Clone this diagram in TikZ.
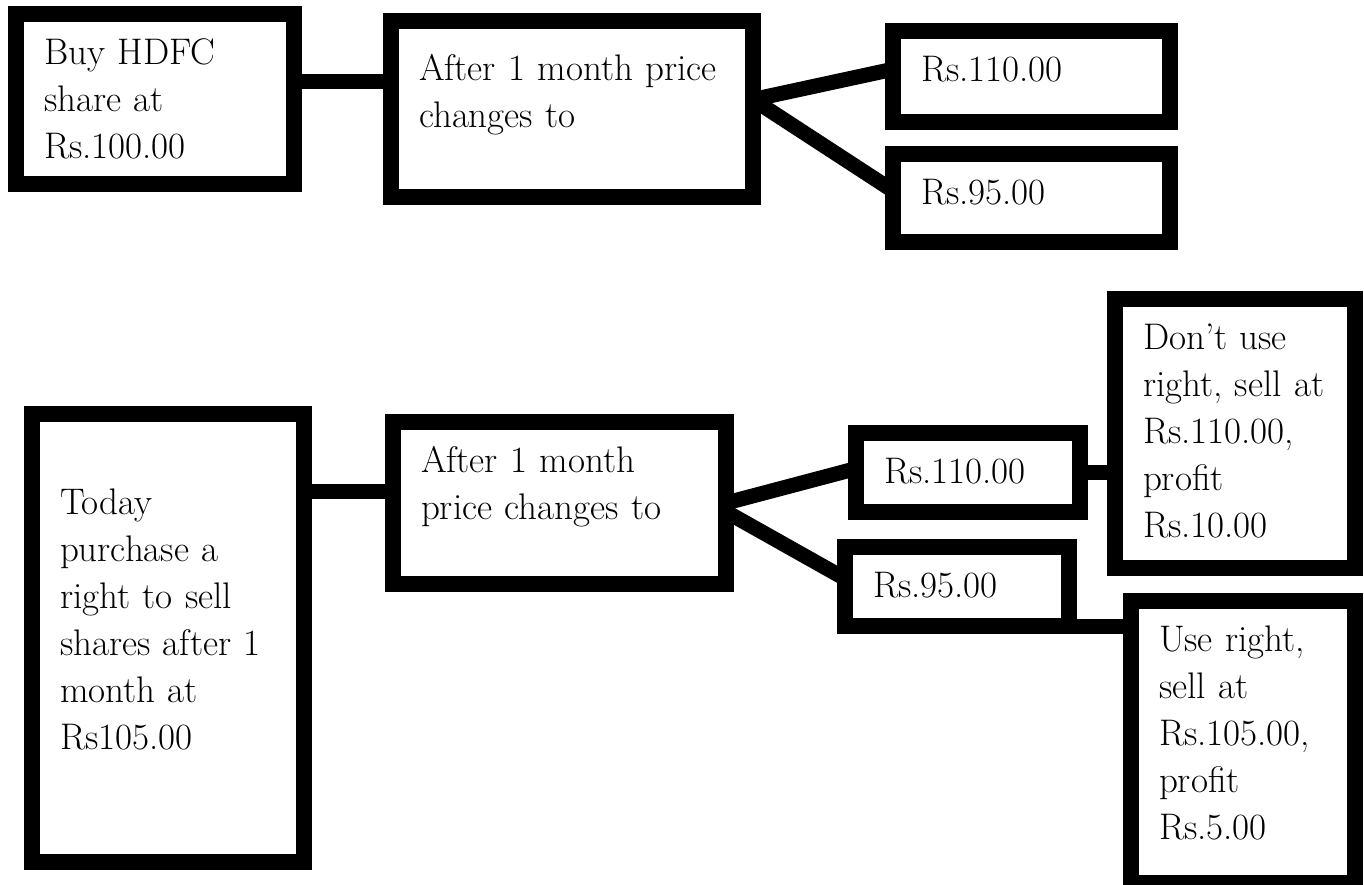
\documentclass[tikz,border=0pt]{standalone}
\usepackage{tikz}

\begin{document}
\begin{tikzpicture}[
    x=0.5pt, y=-0.5pt,
    box/.style={rectangle, draw, line width=8pt, anchor=north west, align=left,
      inner xsep=14pt, inner ysep=0pt, outer sep=0pt, text height=25pt,
      font=\fontsize{18.5}{23.5}\selectfont},
    link/.style={line width=7.5pt}
  ]
  \useasboundingbox (0,0) rectangle (1364,884);

  % buying the share
  \node[box, text width=111pt, text depth=60pt] (buy) at (16,14) {Buy HDFC\\share at\\Rs.100.00};
  \node[box, text width=153pt, text height=29.5pt, text depth=58.5pt] (month) at (391,21) {After~1~month~price\\changes to};
  \node[box, text width=110.5pt, text depth=20.5pt] (hi) at (893,31) {Rs.110.00};
  \node[box, text width=110.5pt, text depth=19pt] (lo) at (893,154) {Rs.95.00};

  \draw[link] (buy.7) -- (buy.7 -| month.west);
  \draw[link] (month.3) -- (hi.177);
  \draw[link] (month.3) -- (lo.177);

  % buying the right to sell
  \node[box, text width=108pt, text height=50pt, text depth=174pt] (today) at (32,414) {Today\\purchase a\\right to sell\\shares~after~1\\month at\\Rs105.00};
  \node[box, text width=138.5pt, text depth=56pt] (monthb) at (393,422) {After 1 month\\price changes to};
  \node[box, text width=84pt, text depth=14.5pt] (hib) at (856,433) {Rs.110.00};
  \node[box, text width=92pt, text depth=109.5pt] (nouse) at (1115,299) {Don't use\\right,~sell~at\\Rs.110.00,\\profit\\Rs.10.00};
  \node[box, text width=84pt, text depth=14.5pt] (lob) at (845,547) {Rs.95.00};
  \node[box, text width=84pt, text depth=116pt] (use) at (1131,601) {Use right,\\sell at\\Rs.105.00,\\profit\\Rs.5.00};

  \draw[link] (today.east |- monthb.176) -- (monthb.176);
  \draw[link] (monthb.east) -- (hib.178);
  \draw[link] (monthb.-3) -- (lob.176);
  \draw[link] (hib.east) -- (hib.east -| nouse.west);
  \draw[link] (lob.south east) -- (lob.south east -| use.west);
\end{tikzpicture}
\end{document}
